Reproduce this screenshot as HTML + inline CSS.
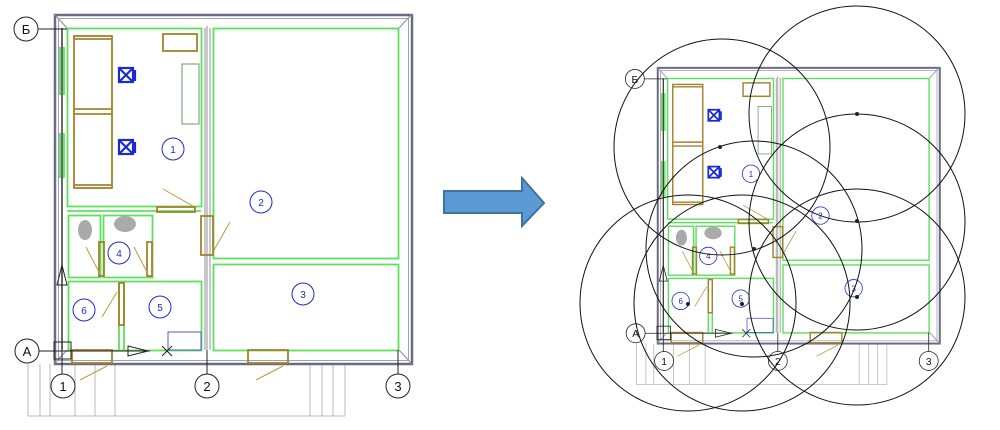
<!DOCTYPE html>
<html><head><meta charset="utf-8"><style>
html,body{margin:0;padding:0;background:#fff;width:1000px;height:430px;overflow:hidden}
svg text{font-family:"Liberation Sans",sans-serif}
</style></head><body>
<svg width="1000" height="430" viewBox="0 0 1000 430" xmlns="http://www.w3.org/2000/svg">
<defs>
<g id="plan">
  <g stroke="#b8b8b8" stroke-width="1" fill="none">
    <path d="M28 364V416M40 364V416M50 364V416M75 364V416M95 364V416M115 364V416M310 364V416M322 364V416M333 364V416M345 364V416M28 416H345"/>
  </g>
  <rect x="55" y="15" width="357" height="349" fill="none" stroke="#6a6a80" stroke-width="2.5"/>
  <rect x="58.5" y="18.5" width="350" height="342" fill="none" stroke="#a0a0b4" stroke-width="1"/>
  <path d="M54 14L67 28M412 14L399 28M412 364L399 350M54 364L67 350" stroke="#8a8aa0" stroke-width="1"/>
  <g fill="none" stroke="#5ee05e" stroke-width="1.8">
    <rect x="67.5" y="28.5" width="134" height="178"/>
    <rect x="213.5" y="28.5" width="185" height="230"/>
    <rect x="213.5" y="264.5" width="185" height="86"/>
    <rect x="68.5" y="215.5" width="32" height="62"/>
    <rect x="103.5" y="215.5" width="49" height="62"/>
    <rect x="68.5" y="281.5" width="133" height="69"/>
    <path d="M67 211H201M60 47V95M64 47V95M60 133V178M64 133V178M119 282V350M124 282V350"/>
  </g>
  <path d="M207 26V350M205 28V350M210 28V350" stroke="#909090" stroke-width="1" fill="none"/>
  <path d="M62 28V350" stroke="#606060" stroke-width="1.5"/>
  <g fill="none" stroke="#a4822a" stroke-width="1.8">
    <rect x="74" y="36" width="38" height="152"/>
    <path d="M74 39H112M74 109H112M74 114H112M74 185H112"/>
    <rect x="163" y="34" width="34" height="17"/>
    <rect x="72" y="350" width="40" height="13"/>
    <rect x="248" y="350" width="40" height="13"/>
    <rect x="157" y="207" width="38" height="5"/>
    <rect x="201" y="216" width="12" height="39"/>
    <rect x="99" y="242" width="5" height="34"/>
    <rect x="147" y="242" width="5" height="34"/>
    <rect x="119" y="283" width="5" height="42"/>
  </g>
  <g stroke="#b89a40" stroke-width="1">
    <path d="M163 189L193 206M230 222L214 250M86 247L100 274M134 247L148 274M117 292L102 317M80 380L107 366M256 380L283 366"/>
  </g>
  <rect x="182" y="64" width="17" height="60" fill="none" stroke="#6a9a6a"/>
  <g stroke="#1a2ad0" stroke-width="2.2" fill="none">
    <rect x="119" y="68" width="14" height="14"/><path d="M119 68L133 82M133 68L119 82M135 70V81"/>
    <rect x="119" y="140" width="14" height="14"/><path d="M119 140L133 154M133 140L119 154M135 142V153"/>
  </g>
  <ellipse cx="85" cy="230" rx="7" ry="10" fill="#aaa"/>
  <ellipse cx="125" cy="224" rx="11" ry="8" fill="#aaa"/>
  <rect x="168" y="332" width="33" height="18" fill="none" stroke="#5555cc" stroke-width="1"/>
  <g stroke="#222" stroke-width="1" fill="none">
    <rect x="54" y="342" width="17" height="17"/>
    <path d="M128 346L148 351L128 356Z"/>
    <path d="M162 346L172 356M172 346L162 356"/>
    <path d="M57 285L62 265L67 285Z"/>
    <path d="M38 29H67M39 351H150M62 29V374M207 350V374M398 350V374"/>
    <circle cx="26" cy="29" r="12" fill="#fff"/>
    <circle cx="27" cy="351" r="12" fill="#fff"/>
    <circle cx="63" cy="386" r="12" fill="#fff"/>
    <circle cx="207" cy="386" r="12" fill="#fff"/>
    <circle cx="398" cy="386" r="12" fill="#fff"/>
  </g>
  <g font-size="13" text-anchor="middle" fill="#111">
    <text x="26" y="34">Б</text><text x="27" y="356">А</text>
    <text x="63" y="391">1</text><text x="207" y="391">2</text><text x="398" y="391">3</text>
  </g>
  <g stroke="#1a2ad0" fill="none" stroke-width="1">
    <circle cx="173" cy="149" r="11"/><circle cx="261" cy="202" r="11"/>
    <circle cx="119" cy="253" r="11"/><circle cx="84" cy="310" r="11"/>
    <circle cx="160" cy="307" r="11"/><circle cx="303" cy="294" r="11"/>
  </g>
  <g font-size="10" text-anchor="middle" fill="#1a2ad0">
    <text x="173" y="153">1</text><text x="261" y="206">2</text><text x="119" y="257">4</text>
    <text x="84" y="314">6</text><text x="160" y="311">5</text><text x="303" y="298">3</text>
  </g>
</g>
</defs>
<use href="#plan"/>
<use href="#plan" transform="translate(614.3,56) scale(0.79)"/>
<path d="M444 191H522V178L544 203L522 226V213H444Z" fill="#5b9bd5" stroke="#41719c" stroke-width="2"/>
<g fill="none" stroke="#111" stroke-width="1">
  <circle cx="722" cy="147" r="108"/>
  <circle cx="857" cy="114" r="108"/>
  <circle cx="754" cy="249" r="108"/>
  <circle cx="857" cy="222" r="108"/>
  <circle cx="688" cy="303" r="108"/>
  <circle cx="742" cy="303" r="108"/>
  <circle cx="857" cy="297" r="108"/>
</g>
<g fill="#222">
  <circle cx="720" cy="147" r="2"/><circle cx="857" cy="114" r="2"/><circle cx="754" cy="249" r="2"/>
  <circle cx="857" cy="221" r="2"/><circle cx="688" cy="304" r="2"/><circle cx="742" cy="304" r="2"/><circle cx="857" cy="297" r="2"/>
</g>
</svg>
</body></html>
